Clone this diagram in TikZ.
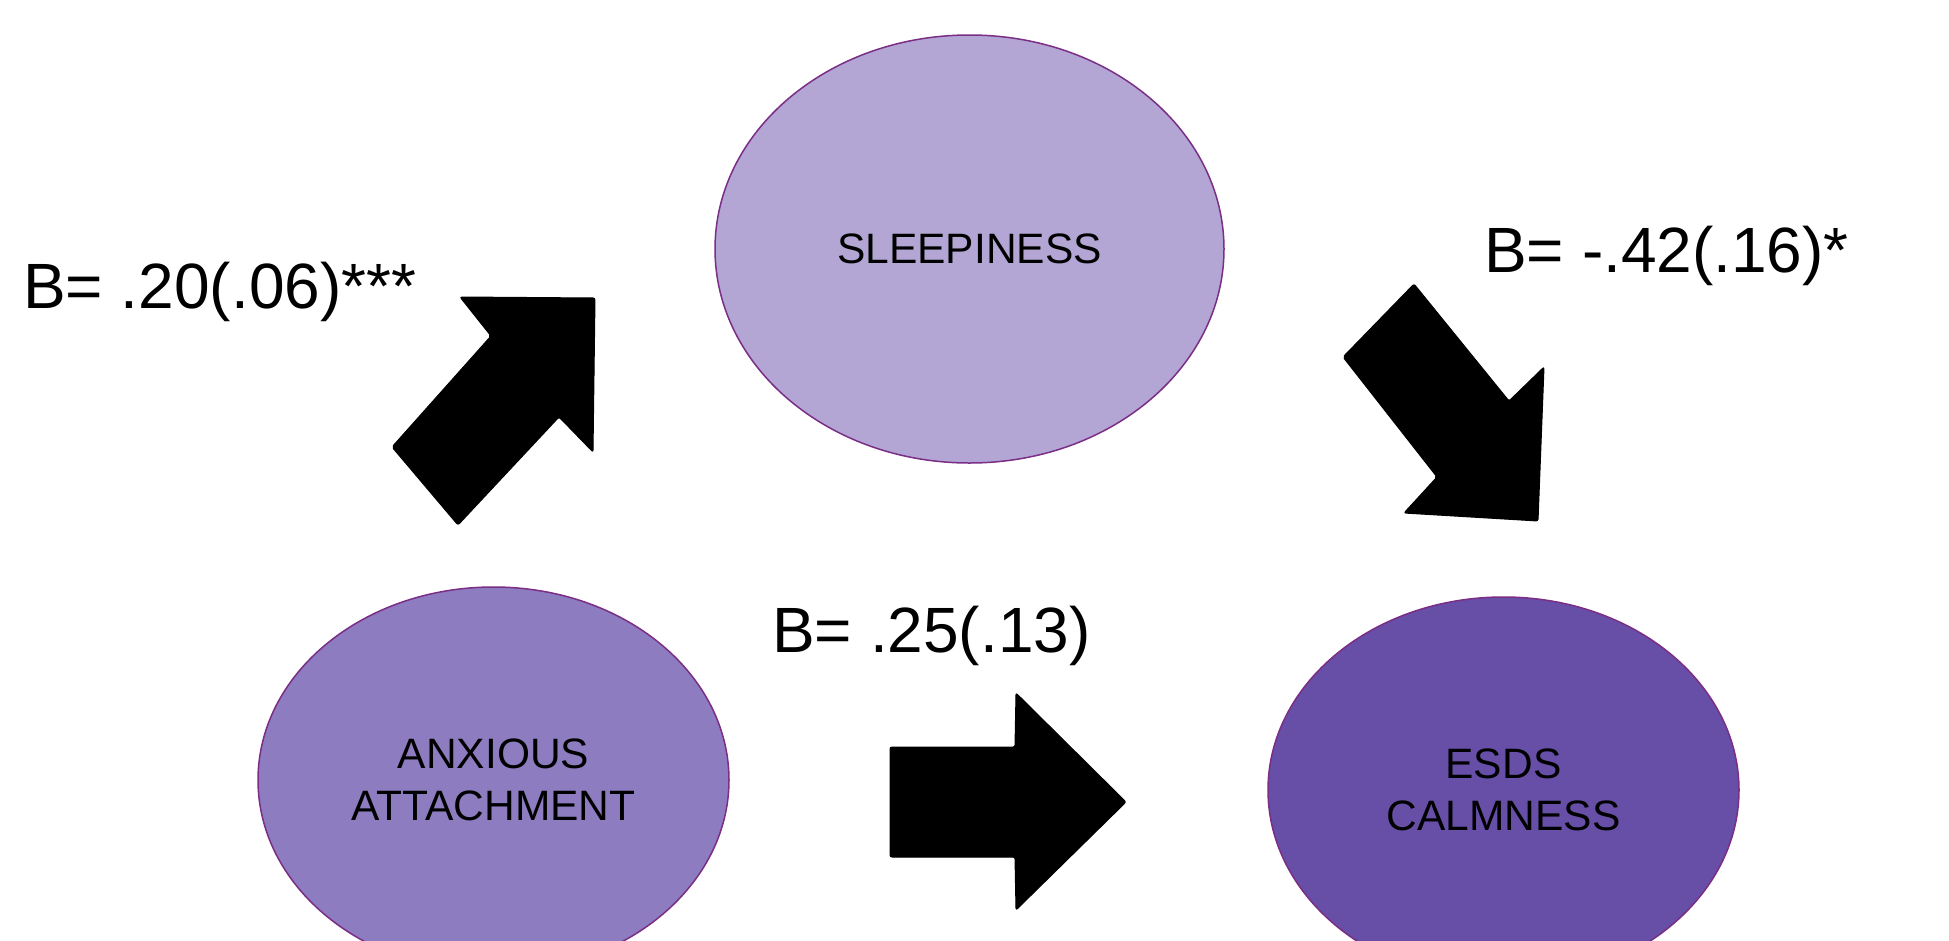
\documentclass[tikz,border=0pt]{standalone}
\usepackage{fontspec}
\setmainfont{Liberation Sans}
\usetikzlibrary{shapes.geometric}
\definecolor{lightlav}{HTML}{B3A6D4}
\definecolor{midlav}{HTML}{8D7CC0}
\definecolor{deeplav}{HTML}{674EA6}
\definecolor{rimpurple}{HTML}{7A2E86}
\tikzset{
  construct/.style={ellipse, draw=rimpurple, line width=1.5pt, inner sep=0pt,
    align=center, font=\fontsize{42.5}{52}\selectfont},
  coef/.style={anchor=base west, inner sep=0pt, font=\fontsize{64}{70}\selectfont},
  blockarrow/.style={fill=black, draw=black, line width=1pt, rounded corners=2pt}
}
\begin{document}
\begin{tikzpicture}[x=1pt, y=-1pt]
\clip (0,0) rectangle (1949,940);
\fill[white] (0,0) rectangle (1949,940);

% latent constructs
\node[construct, fill=lightlav, minimum width=509pt, minimum height=428pt] (sleep) at (969.5,249) {SLEEPINESS};
\node[construct, fill=midlav, minimum width=471pt, minimum height=386pt] (anx) at (493.5,780) {ANXIOUS\\ATTACHMENT};
\node[construct, fill=deeplav, minimum width=471pt, minimum height=386pt] (esds) at (1503.5,790) {ESDS\\CALMNESS};

% path coefficients
\node[coef] (c1) at (23,308) {B= .20(.06)***};
\node[coef] (c2) at (1484,272) {B= -.42(.16)*};
\node[coef] (c3) at (772,652) {B= .25(.13)};

% block arrows
\draw[blockarrow] (392,447) -- (491,336) -- (460,297) -- (595,298) -- (593,452) -- (559,417) -- (458,525) -- cycle;
\draw[blockarrow] (1414,284) -- (1509,401) -- (1544,367) -- (1538,521) -- (1404,513) -- (1437,477) -- (1343,357) -- cycle;
\draw[blockarrow] (890,747) -- (1015,747) -- (1016,693) -- (1126,802) -- (1016,910) -- (1015,857) -- (890,857) -- cycle;
\end{tikzpicture}
\end{document}
